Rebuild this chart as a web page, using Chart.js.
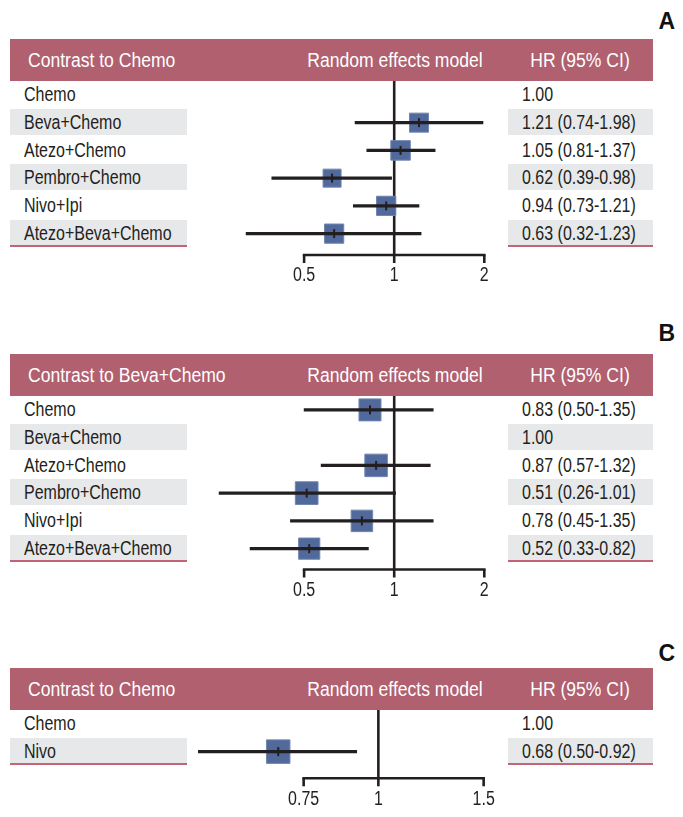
<!DOCTYPE html>
<html><head><meta charset="utf-8">
<script src="https://cdn.jsdelivr.net/npm/chart.js@4.4.1/dist/chart.umd.min.js"></script>
<style>
html,body{margin:0;padding:0;background:#fff}
body{width:683px;height:817px;position:relative;overflow:hidden;font-family:"Liberation Sans",Arial,sans-serif;color:#231f20}
.tag{position:absolute;right:8px;font:bold 23px/23px "Liberation Sans",Arial,sans-serif;color:#111}
.head{position:absolute;left:10px;width:643px;height:42px;background:#b0606f;color:#fff;font-size:19.5px}
.head div{position:absolute;top:0;line-height:42px;white-space:nowrap}
.cell{position:absolute;font-size:19.5px;white-space:nowrap;height:27.75px;line-height:27.75px;transform:scaleX(0.82);transform-origin:0 50%}
.band{position:absolute;background:#e7e8ea;height:26px}
.uline{position:absolute;height:2px;background:#c06476}
canvas{position:absolute}
</style></head><body>
<script>
// ---------- DATA ----------
const rowsA = ['Chemo','Beva+Chemo','Atezo+Chemo','Pembro+Chemo','Nivo+Ipi','Atezo+Beva+Chemo'];
const hrA   = [1.00, 1.21, 1.05, 0.62, 0.94, 0.63];
const lowA  = [null, 0.74, 0.81, 0.39, 0.73, 0.32];
const highA = [null, 1.98, 1.37, 0.98, 1.21, 1.23];
const ticksA = [0.5, 1, 2];
const tickLabelsA = ['0.5','1','2'];

const rowsB = ['Chemo','Beva+Chemo','Atezo+Chemo','Pembro+Chemo','Nivo+Ipi','Atezo+Beva+Chemo'];
const hrB   = [0.83, 1.00, 0.87, 0.51, 0.78, 0.52];
const lowB  = [0.50, null, 0.57, 0.26, 0.45, 0.33];
const highB = [1.35, null, 1.32, 1.01, 1.35, 0.82];
const ticksB = [0.5, 1, 2];
const tickLabelsB = ['0.5','1','2'];

const rowsC = ['Chemo','Nivo'];
const hrC   = [1.00, 0.68];
const lowC  = [null, 0.50];
const highC = [null, 0.92];
const ticksC = [0.75, 1, 1.5];
const tickLabelsC = ['0.75','1','1.5'];

// ---------- STYLE / LAYOUT ----------
const boxA = [null, 19, 19.5, 18, 19.3, 19.2];
const boxB = [22, null, 22.5, 22.7, 21.5, 21.2];
const boxC = [null, 23.5];
const PITCH = 27.75, HEAD_H = 42;
const INK = '#231f20', BOX = '#51699b', BOX_EDGE = '#7186b2';
const TICK_FONT = {family:'"Liberation Sans",Arial,sans-serif', size:20, lineHeight:1.2};

const forestAxis = {
  id:'forestAxis',
  beforeDraw(chart, args, o){
    // condensed tick labels: squeeze each label horizontally around its own anchor
    const s = chart.scales.x;
    if (s && !s.__condensed) {
      const orig = s.drawLabels;
      s.drawLabels = function(area){
        const ctx = this.ctx, rot = ctx.rotate;
        ctx.rotate = function(a){ rot.call(this, a); this.scale(o.condense, 1); };
        try { orig.call(this, area); } finally { ctx.rotate = rot; }
      };
      s.__condensed = true;
    }
  },
  beforeDatasetsDraw(chart, args, o){
    const {ctx, chartArea, scales:{x}} = chart;
    const yA = chartArea.bottom + o.gap;
    ctx.save();
    ctx.strokeStyle = o.color; ctx.lineWidth = o.width; ctx.lineCap = 'butt';
    const x1 = x.getPixelForValue(1);
    ctx.beginPath(); ctx.moveTo(x1, chartArea.top); ctx.lineTo(x1, yA); ctx.stroke();
    const tv = x.ticks.map(t => t.value);
    const a = x.getPixelForValue(Math.min(...tv)), b = x.getPixelForValue(Math.max(...tv));
    ctx.beginPath(); ctx.moveTo(a - o.width/2, yA); ctx.lineTo(b + o.width/2, yA); ctx.stroke();
    tv.forEach(v => { const p = x.getPixelForValue(v); ctx.beginPath(); ctx.moveTo(p, yA); ctx.lineTo(p, yA + o.tick); ctx.stroke(); });
    ctx.restore();
  }
};

function el(cls, css, text, parent){
  const d = document.createElement('div'); d.className = cls;
  Object.assign(d.style, css); if (text != null) d.textContent = text;
  (parent || document.body).appendChild(d); return d;
}

function headText(h, text, center, w){
  el('', {left: (center - 10 - w/2) + 'px', width: w + 'px', textAlign: 'center',
          transform: 'scaleX(0.9)', transformOrigin: '50% 50%'}, text, h);
}

function panel(p){
  const n = p.rows.length;
  el('tag', {top: p.tagTop + 'px'}, p.tag);
  const h = el('head', {top: p.top + 'px'});
  el('', {left: '18.3px', transform: 'scaleX(0.9)', transformOrigin: '0 50%'}, p.title, h);
  headText(h, 'Random effects model', 394.5, 220);
  headText(h, 'HR (95% CI)', 580, 120);
  const rowsTop = p.top + HEAD_H;
  p.rows.forEach((r, i) => {
    const y = rowsTop + i * PITCH;
    if (i % 2 === 1) {
      el('band', {top: y + 'px', left: '10px', width: '177px'});
      el('band', {top: y + 'px', left: '508px', width: '145px'});
    }
    el('cell', {top: y + 'px', left: '24px'}, r);
    const txt = p.low[i] == null ? p.hr[i].toFixed(2)
      : `${p.hr[i].toFixed(2)} (${p.low[i].toFixed(2)}-${p.high[i].toFixed(2)})`;
    el('cell', {top: y + 'px', left: '521.5px'}, txt);
  });
  const ub = rowsTop + n * PITCH - 2.5;
  el('uline', {top: ub + 'px', left: '10px', width: '177px'});
  el('uline', {top: ub + 'px', left: '508px', width: '145px'});

  const areaH = n * PITCH;
  const lh = TICK_FONT.size * TICK_FONT.lineHeight;
  const pad = p.labelOffset - lh / 2;
  const axisH = 2 * pad + lh;
  const cv = document.createElement('canvas');
  cv.width = p.width; cv.height = Math.ceil(areaH + axisH);
  cv.style.left = p.left + 'px'; cv.style.top = rowsTop + 'px';
  document.body.appendChild(cv);

  const ciData = p.rows.map((r, i) => p.low[i] == null ? null : [p.low[i], p.high[i]]);
  const pts = [];
  p.rows.forEach((r, i) => { if (p.low[i] != null) pts.push({x: p.hr[i], y: r, s: p.box[i]}); });

  new Chart(cv, {
    type: 'bar',
    data: {
      labels: p.rows,
      datasets: [
        {type:'bar', indexAxis:'y', data: ciData, backgroundColor: INK, barThickness: 2.6, order: 2},
        {type:'scatter', data: pts, pointStyle:'rect', backgroundColor: BOX, borderColor: BOX_EDGE, borderWidth: 1,
         pointRadius: c => c.raw.s / Math.SQRT2, order: 3},
        {type:'scatter', data: pts, pointStyle:'line', rotation: 90, pointRadius: 4.5, borderColor: INK, borderWidth: 2, order: 1}
      ]
    },
    options: {
      indexAxis: 'y', responsive: false, maintainAspectRatio: false, animation: false, events: [],
      layout: {padding: 0, autoPadding: false},
      plugins: {legend:{display:false}, tooltip:{enabled:false},
        forestAxis: {gap: p.gap, tick: 8, width: 2.6, color: INK, condense: 0.8}},
      scales: {
        x: {type:'logarithmic', min: p.xmin, max: p.xmax, bounds:'data',
            afterBuildTicks: s => { s.ticks = p.ticks.map(v => ({value: v})); },
            afterFit: s => { s.height = cv.height - areaH; },
            grid: {display:false, drawTicks:false}, border: {display:false},
            ticks: {padding: pad, font: TICK_FONT, color: INK, maxRotation: 0, minRotation: 0, autoSkip: false,
                    callback: (v, i) => p.tickLabels[i]}},
        y: {type:'category', labels: p.rows, offset: true, display: false}
      }
    },
    plugins: [forestAxis]
  });
}

panel({tag:'A', tagTop:10, title:'Contrast to Chemo', top:39, rows:rowsA, hr:hrA, low:lowA, high:highA, box:boxA,
  ticks:ticksA, tickLabels:tickLabelsA, xmin:0.2, xmax:2.4, left:185, width:323, gap:7.5, labelOffset:28});
panel({tag:'B', tagTop:322, title:'Contrast to Beva+Chemo', top:354, rows:rowsB, hr:hrB, low:lowB, high:highB, box:boxB,
  ticks:ticksB, tickLabels:tickLabelsB, xmin:0.2, xmax:2.4, left:185, width:323, gap:7, labelOffset:27.5});
panel({tag:'C', tagTop:642, title:'Contrast to Chemo', top:668, rows:rowsC, hr:hrC, low:lowC, high:highC, box:boxC,
  ticks:ticksC, tickLabels:tickLabelsC, xmin:0.45, xmax:1.8, left:171, width:360, gap:12.8, labelOffset:34});
</script>
</body></html>
